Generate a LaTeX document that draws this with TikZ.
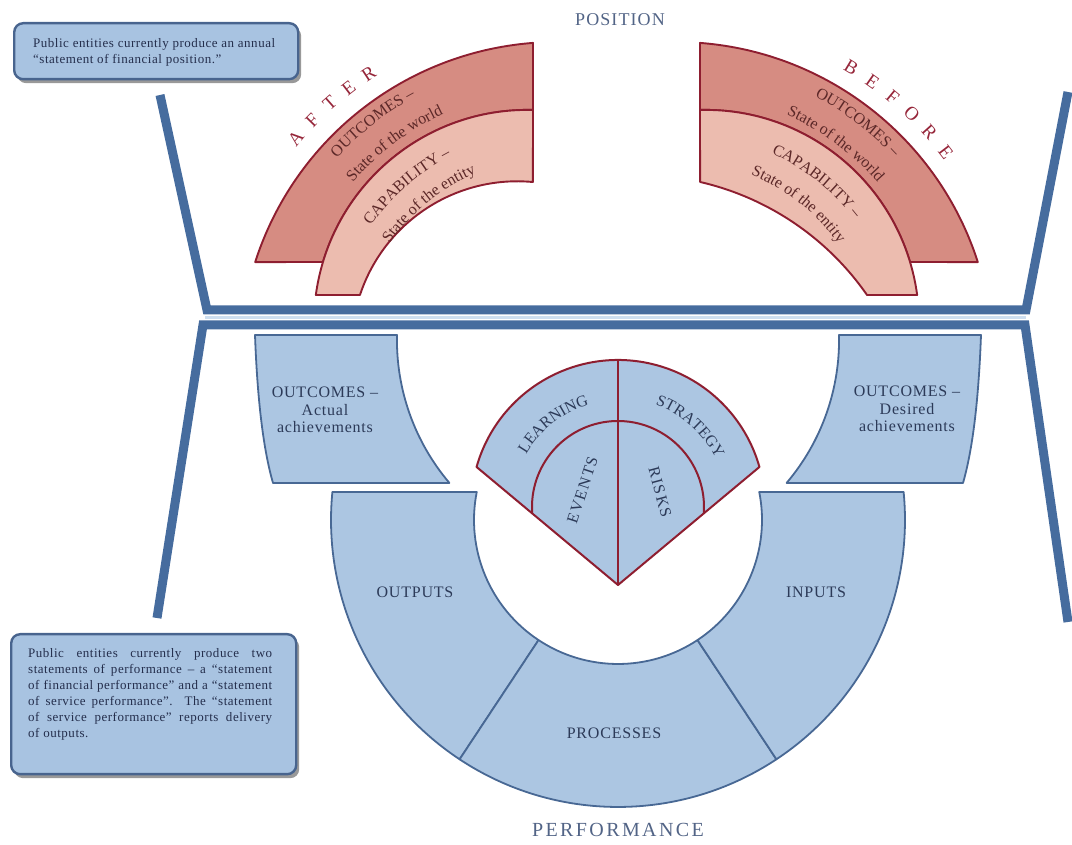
\documentclass[tikz,border=0pt]{standalone}
\usepackage{fontspec}
\setmainfont{Liberation Serif}
\usetikzlibrary{calc,decorations.text,shadows}

\definecolor{barblue}{RGB}{70,108,158}
\definecolor{paleblue}{RGB}{205,222,240}
\definecolor{ringfill}{RGB}{172,198,226}
\definecolor{ringline}{RGB}{72,104,148}
\definecolor{fanline}{RGB}{142,30,48}
\definecolor{outfill}{RGB}{214,140,130}
\definecolor{capfill}{RGB}{236,188,175}
\definecolor{redtext}{RGB}{92,40,40}
\definecolor{lettersred}{RGB}{150,38,58}
\definecolor{navytext}{RGB}{44,58,88}
\definecolor{slatetext}{RGB}{82,100,134}
\definecolor{calloutfill}{RGB}{168,195,225}
\definecolor{calloutline}{RGB}{72,100,142}
\definecolor{calltextcol}{RGB}{36,46,76}

\newcommand\bandfont{\fontsize{16}{16}\selectfont\color{redtext}}
\newcommand\fanfont{\fontsize{16}{16}\selectfont\color{navytext}}

\begin{document}
\begin{tikzpicture}[x=1pt,y=1pt,
  bar/.style={draw=barblue, line width=9pt, line join=miter},
  ringseg/.style={fill=ringfill, draw=ringline, line width=1.8pt, line join=round},
  outband/.style={fill=outfill, draw=fanline, line width=1.9pt, line join=round},
  capband/.style={fill=capfill, draw=fanline, line width=1.9pt, line join=round},
  fanpart/.style={fill=ringfill, draw=fanline, line width=2pt, line join=round},
  fanrule/.style={draw=fanline, line width=2pt},
  callout/.style={fill=calloutfill, draw=calloutline, line width=2.4pt, rounded corners=9pt,
    drop shadow={shadow xshift=3pt, shadow yshift=-4pt, opacity=0.4, fill=black}},
  calltext/.style={inner sep=0pt, text=calltextcol, align=left,
    font=\fontsize{13}{16}\selectfont\addfontfeatures{LetterSpace=4}},
  ringlabel/.style={text=navytext, font=\fontsize{16}{18}\selectfont\addfontfeatures{LetterSpace=5}},
  sidelabel/.style={text=navytext, align=center,
    font=\fontsize{16}{17.5}\selectfont\addfontfeatures{LetterSpace=5}},
  fanletters/.style={text=navytext, inner sep=0pt,
    font=\fontsize{16}{16}\selectfont\addfontfeatures{LetterSpace=10}},
  heading/.style={text=slatetext},
  bigletter/.style={text=lettersred, inner sep=0pt, font=\fontsize{19}{19}\selectfont},
  bandtext/.style={decorate, decoration={text along path, text align=center, text={#1}}}
]
\useasboundingbox (0,0) rectangle (1072,845);

% ---------- callouts ----------
\node[callout, anchor=north west, minimum width=284pt, minimum height=56pt] (posnote) at (13,823) {};
\node[calltext, anchor=north west] (posnotetext) at (33,807)
  {Public entities currently produce an annual\\“statement of financial position.”};

\node[callout, anchor=north west, minimum width=285pt, minimum height=140pt] (perfnote) at (10,212) {};
\node[calltext, anchor=north west] (perfnotetext) at (28,197)
  {\makebox[244pt][s]{Public entities currently produce two}\\
   \makebox[244pt][s]{statements of performance – a “statement}\\
   \makebox[244pt][s]{of financial performance” and a “statement}\\
   \makebox[244pt][s]{of service performance”. The “statement}\\
   \makebox[244pt][s]{of service performance” reports delivery}\\
   of outputs.};

% ---------- frame bars ----------
\coordinate (tl) at (160,750);  \coordinate (tlb) at (207,535);
\coordinate (trb) at (1026,535); \coordinate (tr) at (1068,753);
\coordinate (bl) at (157,227);  \coordinate (blb) at (203,520);
\coordinate (brb) at (1025,520); \coordinate (br) at (1068,223);
\draw[paleblue, line width=3pt] ($(tlb)!0.5!(blb)$) -- ($(trb)!0.5!(brb)$);
\draw[bar] (tl) -- (tlb) -- (trb) -- (tr);
\draw[bar] (bl) -- (blb) -- (brb) -- (br);

% ---------- position bands ----------
\coordinate (ac) at (557,486);   \coordinate (bc) at (527.6,521.4);  \coordinate (cc) at (517.3,498);
\coordinate (ac2) at (676,486);  \coordinate (bc2) at (705.4,521.4); \coordinate (cc2) at (637.1,390.2);

% after side
\path[outband] ($(ac)+(162.2:317)$) arc[start angle=162.2, end angle=94.34, radius=317]
  -- ($(bc)+(88.55:213.7)$) arc[start angle=88.55, end angle=163.25, radius=213.7] -- cycle;
\path[capband] ($(bc)+(172.3:213.7)$) arc[start angle=172.3, end angle=88.55, radius=213.7]
  -- ($(cc)+(84.6:165.7)$) arc[start angle=84.6, end angle=161.7, radius=165.7] -- cycle;
% before side
\path[outband] ($(ac2)+(17.8:317)$) arc[start angle=17.8, end angle=85.66, radius=317]
  -- ($(bc2)+(91.45:213.7)$) arc[start angle=91.45, end angle=16.75, radius=213.7] -- cycle;
\path[capband] ($(bc2)+(7.7:213.7)$) arc[start angle=7.7, end angle=91.45, radius=213.7]
  -- ($(cc2)+(77.0:280)$) arc[start angle=77.0, end angle=34.8, radius=280] -- cycle;

% curved band labels
\path[bandtext={|\bandfont|OUTCOMES –}] ($(ac)+(163:298)$) arc[start angle=163, end angle=93, radius=298];
\path[bandtext={|\bandfont|State of the world}] ($(ac)+(162:270)$) arc[start angle=162, end angle=92, radius=270];
\path[bandtext={|\bandfont|CAPABILITY –}] ($(ac)+(166:229)$) arc[start angle=166, end angle=96, radius=229];
\path[bandtext={|\bandfont|State of the entity}] ($(ac)+(164.5:203)$) arc[start angle=164.5, end angle=94.5, radius=203];

\path[bandtext={|\bandfont|OUTCOMES –}] ($(ac2)+(87.5:297)$) arc[start angle=87.5, end angle=17.5, radius=297];
\path[bandtext={|\bandfont|State of the world}] ($(ac2)+(88.4:268)$) arc[start angle=88.4, end angle=18.4, radius=268];
\path[bandtext={|\bandfont|CAPABILITY –}] ($(ac2)+(86.6:227)$) arc[start angle=86.6, end angle=16.6, radius=227];
\path[bandtext={|\bandfont|State of the entity}] ($(ac2)+(86.6:199)$) arc[start angle=86.6, end angle=16.6, radius=199];

% spaced titles over the bands
\foreach \ch/\ang [count=\i] in {A/139.8,F/135.7,T/131.6,E/127.5,R/123.4}
  \node[bigletter, rotate=\ang-90] (after\i) at ($(ac)+(\ang:342)$) {\ch};
\foreach \ch/\ang [count=\i] in {B/59.0,E/54.7,F/50.4,O/46.1,R/41.8,E/37.5}
  \node[bigletter, rotate=\ang-90] (before\i) at ($(ac2)+(\ang:340)$) {\ch};

% ---------- outcome blocks ----------
\path[ringseg] (273,362) .. controls (262,400) and (257,455) .. (255,510) -- (397,510)
  arc[start angle=178.7, end angle=220.3, radius=221] -- cycle;
\path[ringseg] (963,362) .. controls (974,400) and (979,455) .. (981,510) -- (839,510)
  arc[start angle=1.3, end angle=-40.3, radius=221] -- cycle;
\node[sidelabel] (actual) at (325,435) {OUTCOMES –\\Actual\\achievements};
\node[sidelabel] (desired) at (907,436) {OUTCOMES –\\Desired\\achievements};

% ---------- performance ring ----------
\coordinate (rc) at (618,325);
\path[ringseg] ($(rc)+(174.4:287)$) -- ($(rc)+(168.8:144)$) arc[start angle=168.8, end angle=236.5, radius=144]
  -- ($(rc)+(236.5:287)$) arc[start angle=236.5, end angle=174.4, radius=287] -- cycle;
\path[ringseg] ($(rc)+(236.5:144)$) arc[start angle=236.5, end angle=303.5, radius=144]
  -- ($(rc)+(303.5:287)$) arc[start angle=303.5, end angle=236.5, radius=287] -- cycle;
\path[ringseg] ($(rc)+(303.5:144)$) arc[start angle=303.5, end angle=371.2, radius=144]
  -- ($(rc)+(5.6:287)$) arc[start angle=5.6, end angle=-56.5, radius=287] -- cycle;
\node[ringlabel] (outputs) at (415,253) {OUTPUTS};
\node[ringlabel] (inputs) at (816,253) {INPUTS};
\node[ringlabel] (processes) at (614,112) {PROCESSES};

% ---------- central fan ----------
\coordinate (fc) at (618,338);
\coordinate (apex) at (618,260);
\path[fanpart] (apex) -- ($(fc)+(164.2:147)$) arc[start angle=164.2, end angle=15.8, radius=147] -- cycle;
\draw[fanrule] ($(fc)+(184:86)$) arc[start angle=184, end angle=-4, radius=86];
\draw[fanrule] (apex) -- ($(fc)+(90:147)$);
\path[bandtext={|\fanfont|LEARNING}] ($(fc)+(168:106)$) arc[start angle=168, end angle=88, radius=106];
\path[bandtext={|\fanfont|STRATEGY}] ($(fc)+(88:109)$) arc[start angle=88, end angle=8, radius=109];
\node[fanletters, rotate=72] (events) at (582.5,355) {EVENTS};
\node[fanletters, rotate=-75] (risks) at (660,353) {RISKS};

% ---------- headings ----------
\node[heading, font=\fontsize{18}{18}\selectfont\addfontfeatures{LetterSpace=6}] (position) at (620,825) {POSITION};
\node[heading, font=\fontsize{20}{20}\selectfont\addfontfeatures{LetterSpace=12}] (performance) at (618,15) {PERFORMANCE};
\end{tikzpicture}
\end{document}
